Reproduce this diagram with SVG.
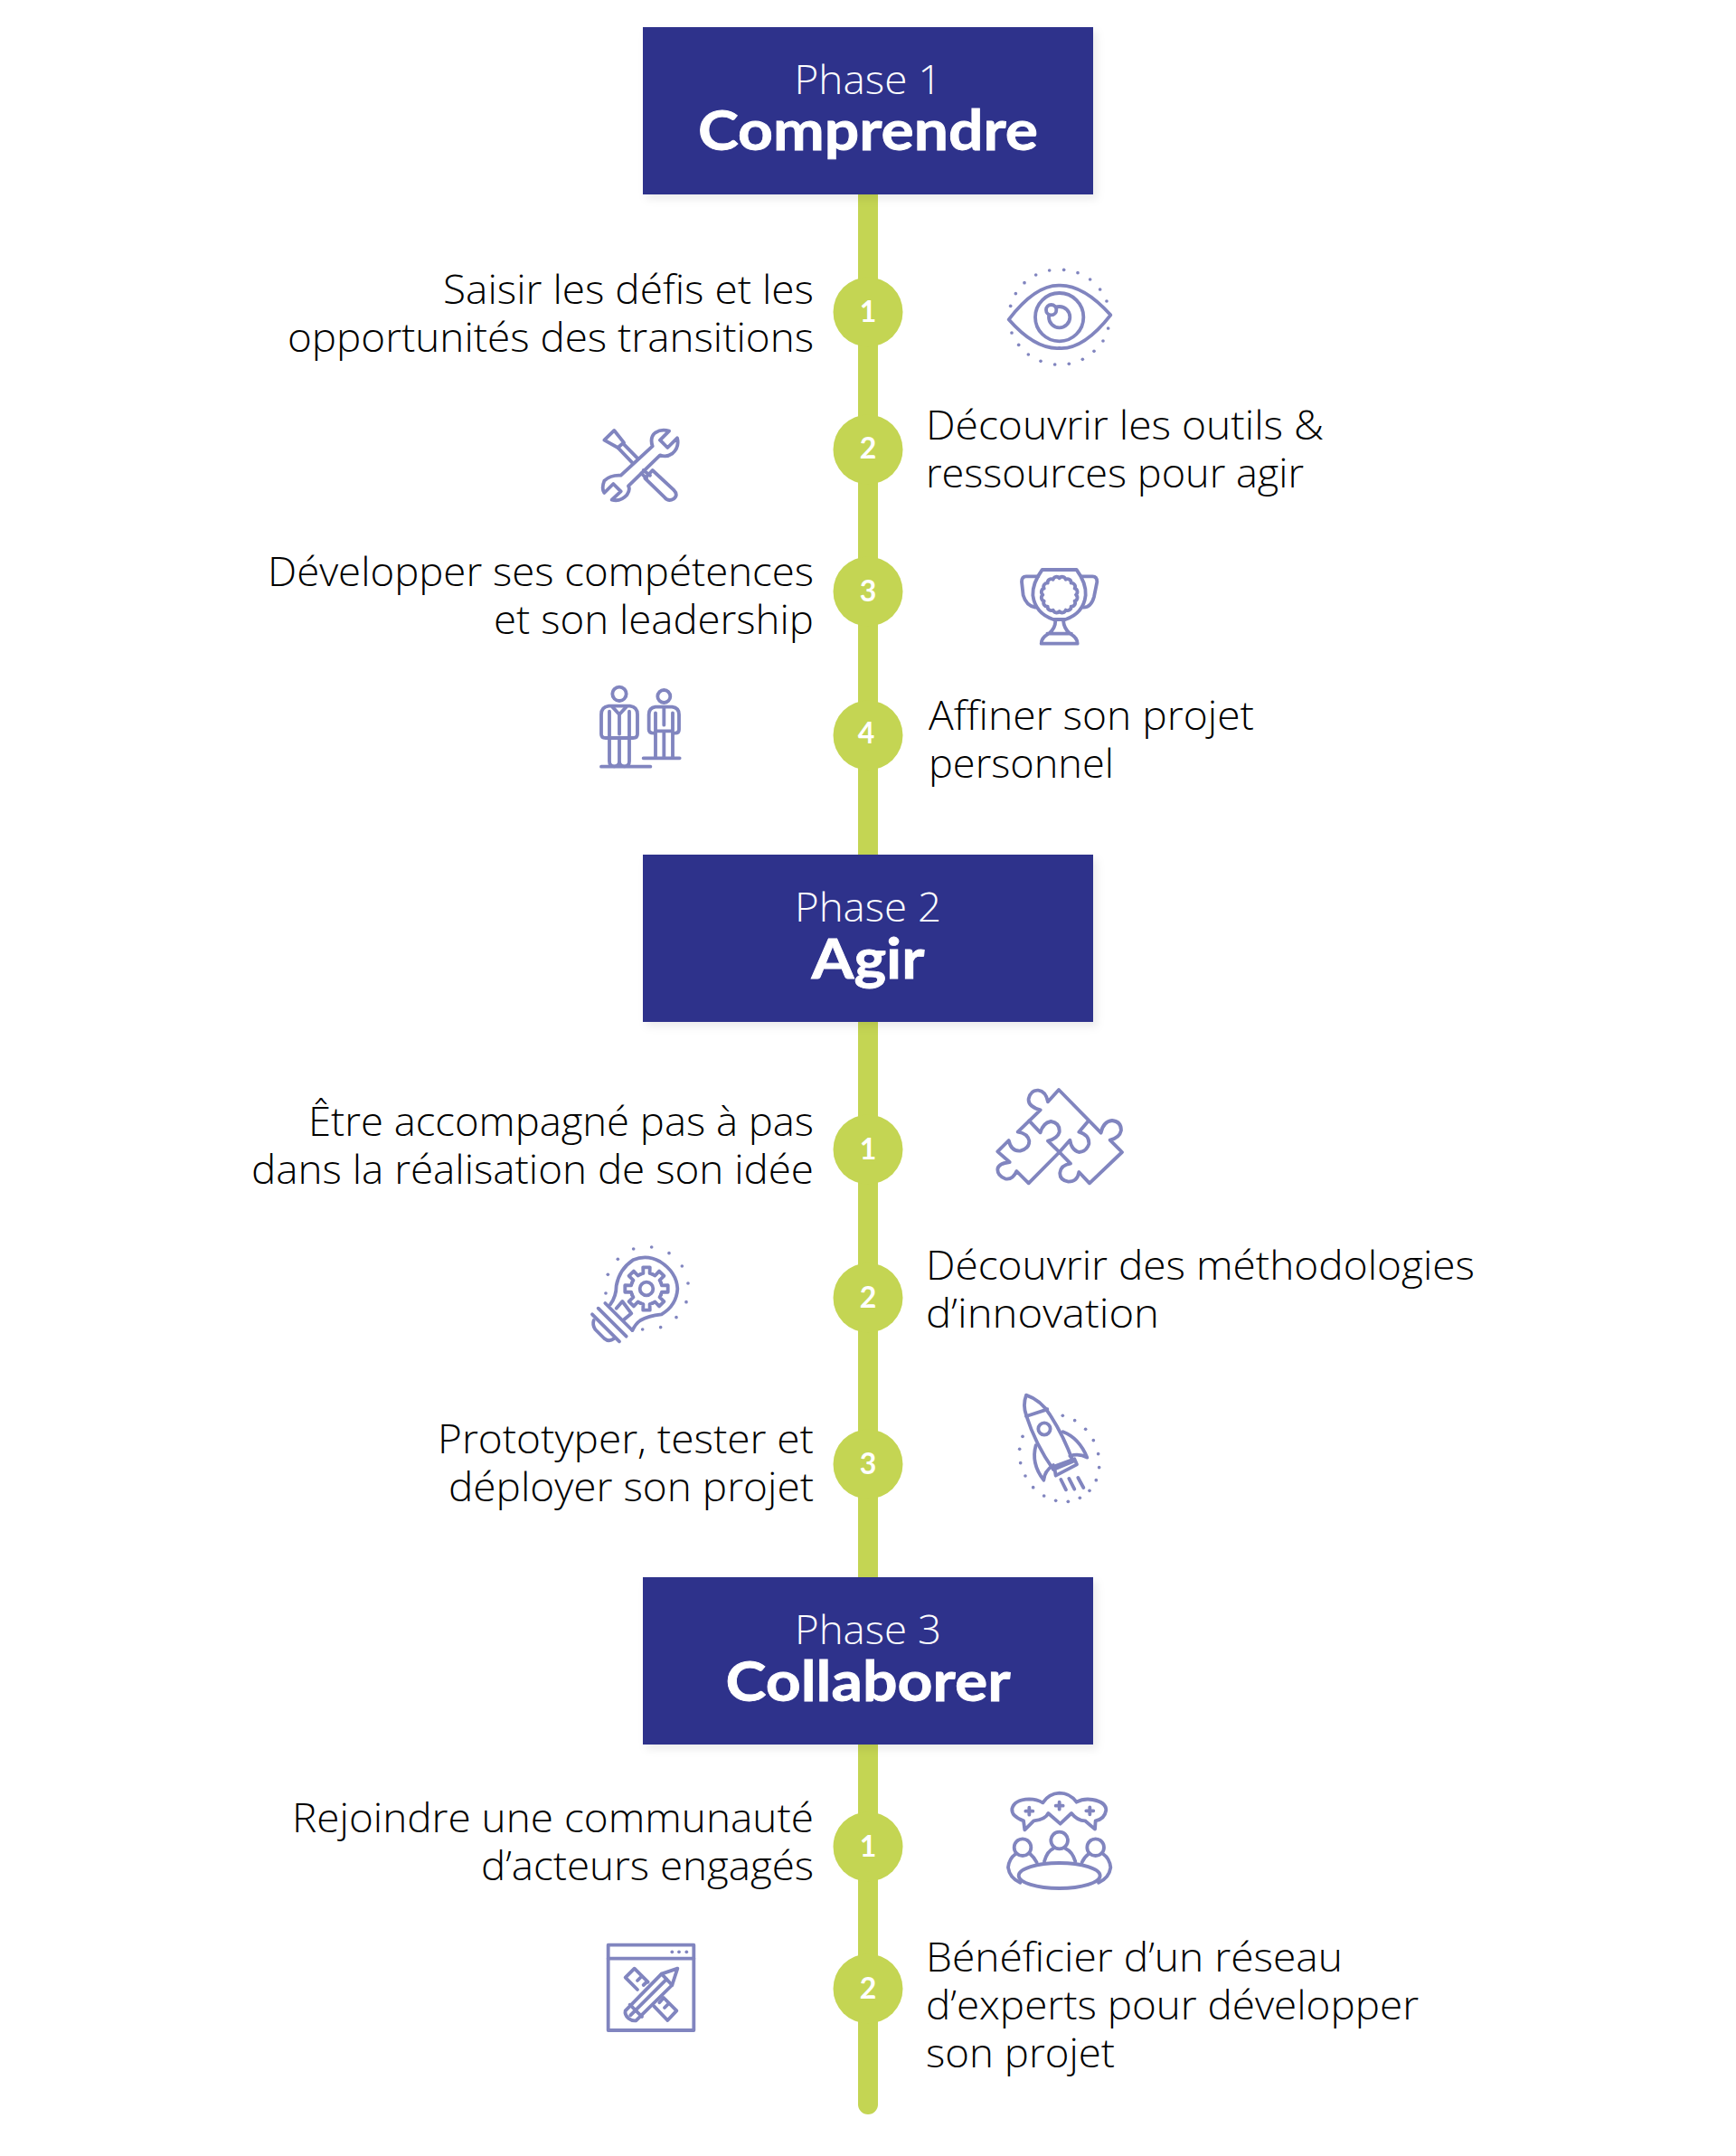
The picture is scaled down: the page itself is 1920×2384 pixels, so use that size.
<svg xmlns="http://www.w3.org/2000/svg" xmlns:xlink="http://www.w3.org/1999/xlink" width="1920" height="2384" viewBox="0 0 1920 2384">
<style>
.box{fill:#2e338b}
.ph{font:300 44px "Open Sans","Noto Sans",sans-serif;fill:#fff;text-anchor:middle}
.ti{font:700 61px Lato,"Noto Sans",sans-serif;fill:#fff;stroke:#fff;stroke-width:.8;text-anchor:middle}
.t{font:300 44px "Open Sans","Noto Sans",sans-serif;fill:#000}
.l{text-anchor:end}
.c{fill:#c4d553}
.n{font:700 32px Lato,sans-serif;fill:#fff;text-anchor:middle}
.i{fill:none;stroke:#8185bf;stroke-width:11.500;stroke-linecap:round;stroke-linejoin:round}
.d{fill:#8185bf;stroke:none}
</style>
<defs>
<filter id="sh" x="-5%" y="-10%" width="110%" height="125%"><feDropShadow dx="4" dy="5" stdDeviation="5" flood-color="#000" flood-opacity=".08"/></filter>
<path id="tooth" d="M-19.9 -48L-10.8 -50.9L-11.3 -71.1L11.3 -71.1L10.8 -50.9L19.9 -48"/>
</defs>
<rect width="1920" height="2384" fill="#fff"/>
<g id="connectors"><path d="M949 215V2327a11 11 0 0 0 22 0V215Z" class="c"/></g>

<g id="phase1"><rect class="box" x="711" y="30" width="498" height="185" filter="url(#sh)"/><text class="ph" x="960" y="104" textLength="163" lengthAdjust="spacingAndGlyphs">Phase 1</text><text class="ti" x="960" y="166" textLength="376" lengthAdjust="spacingAndGlyphs">Comprendre</text></g>
<g id="phase2"><rect class="box" x="711" y="945" width="498" height="185" filter="url(#sh)"/><text class="ph" x="960" y="1019" textLength="162" lengthAdjust="spacingAndGlyphs">Phase 2</text><text class="ti" x="960" y="1082" textLength="125" lengthAdjust="spacingAndGlyphs">Agir</text></g>
<g id="phase3"><rect class="box" x="711" y="1744" width="498" height="185" filter="url(#sh)"/><text class="ph" x="960" y="1818" textLength="162" lengthAdjust="spacingAndGlyphs">Phase 3</text><text class="ti" x="960" y="1881" textLength="315" lengthAdjust="spacingAndGlyphs">Collaborer</text></g>

<g id="p1s1"><circle class="c" cx="960" cy="345" r="38.5"/><text class="n" x="960" y="356">1</text>
<text class="t l" x="900" y="336" textLength="410" lengthAdjust="spacingAndGlyphs">Saisir les défis et les</text><text class="t l" x="900" y="389" textLength="582" lengthAdjust="spacingAndGlyphs">opportunités des transitions</text>
<g class="i" transform="translate(1095 280) scale(.3333)"><path d="M62 220Q150 105 230 107Q310 105 400 205Q310 320 230 315Q150 320 62 220Z"/><circle cx="230" cy="212" r="80"/><circle cx="230" cy="212" r="35"/><circle cx="203" cy="188" r="17" fill="#fff"/>
<g class="d"><circle cx="245" cy="55" r="5.500"/><circle cx="291" cy="65" r="5.500"/><circle cx="332" cy="87" r="5.500"/><circle cx="365" cy="120" r="5.500"/><circle cx="387" cy="159" r="5.500"/><circle cx="392" cy="249" r="5.500"/><circle cx="375" cy="291" r="5.500"/><circle cx="345" cy="325" r="5.500"/><circle cx="307" cy="352" r="5.500"/><circle cx="262" cy="367" r="5.500"/><circle cx="215" cy="369" r="5.500"/><circle cx="168" cy="358" r="5.500"/><circle cx="127" cy="336" r="5.500"/><circle cx="95" cy="304" r="5.500"/><circle cx="72" cy="264" r="5.500"/><circle cx="68" cy="175" r="5.500"/><circle cx="85" cy="134" r="5.500"/><circle cx="114" cy="98" r="5.500"/><circle cx="152" cy="72" r="5.500"/><circle cx="197" cy="57" r="5.500"/></g></g></g>

<g id="p1s2"><circle class="c" cx="960" cy="497" r="38.5"/><text class="n" x="960" y="507">2</text>
<text class="t" x="1024" y="486" textLength="440" lengthAdjust="spacingAndGlyphs">Découvrir les outils &amp;</text><text class="t" x="1024" y="539" textLength="418" lengthAdjust="spacingAndGlyphs">ressources pour agir</text>
<g class="i" transform="translate(650 460) scale(.3333)"><path d="M55 80L88 48L120 88L100 105Z"/><path d="M118 92L165 140M102 107L148 155"/><path d="M185 180L207 197"/><path d="M178 190L195 207"/><path d="M190 207L215 180L285 245Q302 262 285 275Q268 285 255 270Z"/>
<path d="M215 100Q205 70 225 55Q245 42 270 50L240 80L265 105L297 73Q305 105 280 125Q262 138 240 130L135 232Q142 245 130 262Q110 285 80 278L110 250L85 225L55 255Q45 240 55 215Q75 195 110 197Z"/></g></g>

<g id="p1s3"><circle class="c" cx="960" cy="654" r="38.5"/><text class="n" x="960" y="665">3</text>
<text class="t l" x="900" y="648" textLength="604" lengthAdjust="spacingAndGlyphs">Développer ses compétences</text><text class="t l" x="900" y="701" textLength="354" lengthAdjust="spacingAndGlyphs">et son leadership</text>
<g class="i" transform="translate(1090 600) scale(.3333)"><path d="M188 90L302 90Q335 135 332 175Q325 235 265 255L225 255Q165 235 157 175Q155 135 188 90Z"/><path d="M175 112L135 112Q120 112 120 130L125 175Q135 210 165 215M318 112L355 112Q370 112 370 130L360 180Q350 215 325 215"/><path d="M232 258Q232 285 210 302Q185 315 185 335L305 335Q305 315 280 302Q260 285 258 258M205 302L285 302"/>
<path d="M300 173A12 12 0 0 1 295.800 194A12 12 0 0 1 283.900 211.900A12 12 0 0 1 266 223.800A12 12 0 0 1 245 228A12 12 0 0 1 224 223.800A12 12 0 0 1 206.100 211.900A12 12 0 0 1 194.200 194A12 12 0 0 1 190 173A12 12 0 0 1 194.200 152A12 12 0 0 1 206.100 134.100A12 12 0 0 1 224 122.200A12 12 0 0 1 245 118A12 12 0 0 1 266 122.200A12 12 0 0 1 283.900 134.100A12 12 0 0 1 295.800 152A12 12 0 0 1 300 173Z"/></g></g>

<g id="p1s4"><circle class="c" cx="960" cy="813" r="38.5"/><text class="n" x="958" y="822">4</text>
<text class="t" x="1027" y="807" textLength="360" lengthAdjust="spacingAndGlyphs">Affiner son projet</text><text class="t" x="1027" y="860" textLength="205" lengthAdjust="spacingAndGlyphs">personnel</text>
<g class="i" transform="translate(640 740) scale(.3333)"><circle cx="135" cy="82" r="23"/><path d="M100 122L170 122Q195 125 195 150L195 215Q195 228 180 228L90 228Q75 228 75 215L75 150Q75 125 100 122Z"/><path d="M102 140V305Q102 322 118 322Q135 322 135 305V232M135 305Q135 322 152 322Q168 322 168 305V140M112 125L135 150L158 125M135 150V215"/><path d="M75 323H238"/>
<circle cx="283" cy="90" r="21"/><path d="M255 125L310 125Q333 128 333 150L333 200Q333 212 320 212M255 125Q233 128 233 150L233 200Q233 212 250 212"/><path d="M255 145V295M283 212V295M312 145V295M283 130V185M255 205H312M215 295H335"/></g></g>

<g id="p2s1"><circle class="c" cx="960" cy="1271" r="38.5"/><text class="n" x="960" y="1282">1</text>
<text class="t l" x="900" y="1256" textLength="559" lengthAdjust="spacingAndGlyphs">Être accompagné pas à pas</text><text class="t l" x="900" y="1309" textLength="622" lengthAdjust="spacingAndGlyphs">dans la réalisation de son idée</text>
<g class="i" transform="translate(1085 1190) scale(.3333)"><path d="M258 45L398 188Q405 150 435 147Q465 150 465 180Q460 205 428 212L468 252L360 355L325 318Q320 350 290 350Q260 345 262 320Q265 295 297 290L260 252L158 355L118 315Q105 345 80 340Q55 330 55 310Q55 290 95 285L55 250L92 213Q100 250 130 248Q160 240 160 215Q155 190 122 185L197 112Q155 100 158 75Q165 45 190 47Q215 50 222 85Z"/><path d="M160 148L197 187Q205 155 232 150Q262 155 260 185Q255 205 222 215L260 252L295 212Q300 245 325 252Q350 250 358 225Q360 195 325 185L355 150"/></g></g>

<g id="p2s2"><circle class="c" cx="960" cy="1435" r="38.5"/><text class="n" x="960" y="1446">2</text>
<text class="t" x="1024" y="1415" textLength="607" lengthAdjust="spacingAndGlyphs">Découvrir des méthodologies</text><text class="t" x="1024" y="1468" textLength="258" lengthAdjust="spacingAndGlyphs">d’innovation</text>
<g class="i" transform="translate(640 1365) scale(.3333)"><path d="M105 232Q125 205 125 170Q135 115 180 85Q225 65 270 90Q325 125 328 180Q325 235 275 265Q230 270 205 285Q190 295 178 318"/><path d="M88 228L178 318M65 245L158 338M45 265L135 355"/><path d="M50 285Q45 300 55 315L85 345Q100 358 118 345"/><path d="M125 245L145 222L175 262L150 283"/>
<circle cx="225" cy="180" r="22"/><g transform="translate(225 180)"><use xlink:href="#tooth"/><use xlink:href="#tooth" transform="rotate(45)"/><use xlink:href="#tooth" transform="rotate(90)"/><use xlink:href="#tooth" transform="rotate(135)"/><use xlink:href="#tooth" transform="rotate(180)"/><use xlink:href="#tooth" transform="rotate(225)"/><use xlink:href="#tooth" transform="rotate(270)"/><use xlink:href="#tooth" transform="rotate(315)"/></g>
<g class="d"><circle cx="182" cy="48" r="5.500"/><circle cx="242" cy="42" r="5.500"/><circle cx="300" cy="62" r="5.500"/><circle cx="343" cy="105" r="5.500"/><circle cx="363" cy="162" r="5.500"/><circle cx="357" cy="224" r="5.500"/><circle cx="324" cy="275" r="5.500"/><circle cx="272" cy="308" r="5.500"/><circle cx="212" cy="315" r="5.500"/><circle cx="130" cy="82" r="5.500"/><circle cx="97" cy="133" r="5.500"/><circle cx="90" cy="195" r="5.500"/></g></g></g>

<g id="p2s3"><circle class="c" cx="960" cy="1619" r="38.5"/><text class="n" x="960" y="1630">3</text>
<text class="t l" x="900" y="1607" textLength="416" lengthAdjust="spacingAndGlyphs">Prototyper, tester et</text><text class="t l" x="900" y="1660" textLength="404" lengthAdjust="spacingAndGlyphs">déployer son projet</text>
<g class="i" transform="translate(1105 1530) scale(.3333)"><path d="M90 38Q140 55 170 105Q215 175 245 258L180 285Q120 200 90 105Q78 70 90 38Z"/><path d="M90 108L160 85"/><circle cx="150" cy="150" r="20"/><path d="M122 205Q105 265 148 320Q150 290 180 270M212 160Q265 180 292 245Q265 230 235 240"/><path d="M183 275L250 250L258 268L188 305Z"/><path d="M205 318L222 352M232 315L250 350M262 312L280 345"/>
<g class="d"><circle cx="211" cy="106" r="5.500"/><circle cx="251" cy="122" r="5.500"/><circle cx="287" cy="151" r="5.500"/><circle cx="313" cy="188" r="5.500"/><circle cx="329" cy="233" r="5.500"/><circle cx="332" cy="278" r="5.500"/><circle cx="322" cy="320" r="5.500"/><circle cx="300" cy="355" r="5.500"/><circle cx="268" cy="379" r="5.500"/><circle cx="229" cy="391" r="5.500"/><circle cx="188" cy="388" r="5.500"/><circle cx="149" cy="372" r="5.500"/><circle cx="113" cy="344" r="5.500"/><circle cx="87" cy="306" r="5.500"/><circle cx="71" cy="263" r="5.500"/><circle cx="68" cy="217" r="5.500"/><circle cx="78" cy="175" r="5.500"/></g></g></g>

<g id="p3s1"><circle class="c" cx="960" cy="2042" r="38.5"/><text class="n" x="960" y="2053">1</text>
<text class="t l" x="900" y="2026" textLength="577" lengthAdjust="spacingAndGlyphs">Rejoindre une communauté</text><text class="t l" x="900" y="2079" textLength="368" lengthAdjust="spacingAndGlyphs">d’acteurs engagés</text>
<g class="i" transform="translate(1100 1970) scale(.3333)"><path d="M96 130Q55 115 58 90Q65 60 115 58Q140 58 160 70Q180 40 215 38Q250 38 272 68Q295 55 325 60Q370 68 370 95Q365 125 335 130L333 158L300 130Q275 130 255 105L218 140L178 105Q170 125 130 130L100 160Z"/><path d="M115 86V110M103 98H127M215 68V92M203 80H227M316 85V109M304 97H328"/>
<circle cx="93" cy="218" r="28"/><circle cx="215" cy="195" r="28"/><circle cx="335" cy="218" r="28"/><path d="M165 265Q175 230 195 222M235 222Q258 232 268 265M70 240Q48 255 45 285Q50 320 85 335M118 240Q130 250 140 268M360 240Q382 255 385 285Q380 320 345 335M312 240Q298 250 290 268"/><ellipse cx="215" cy="312" rx="135" ry="42"/></g></g>

<g id="p3s2"><circle class="c" cx="960" cy="2199" r="38.5"/><text class="n" x="960" y="2210">2</text>
<text class="t" x="1024" y="2180" textLength="461" lengthAdjust="spacingAndGlyphs">Bénéficier d’un réseau</text><text class="t" x="1024" y="2233" textLength="545" lengthAdjust="spacingAndGlyphs">d’experts pour développer</text><text class="t" x="1024" y="2286" textLength="209" lengthAdjust="spacingAndGlyphs">son projet</text>
<g class="i" transform="translate(660 2135) scale(.3333)"><rect x="38" y="47" width="284" height="283"/><path d="M38 92H322"/><g class="d"><circle cx="250" cy="70" r="5.500"/><circle cx="273" cy="70" r="5.500"/><circle cx="298" cy="70" r="5.500"/></g>
<path d="M170 170L125 125L95 155L135 195M150 150L135 165M168 168L155 180M225 225L265 265L235 297L190 250M240 240L225 255M222 222L208 238"/>
<path d="M95 265L215 143L268 125L250 180L130 298Q118 300 105 290Q92 278 95 265Z"/><path d="M112 280L232 160M215 143L250 180M110 245L150 285"/></g></g>
</svg>
